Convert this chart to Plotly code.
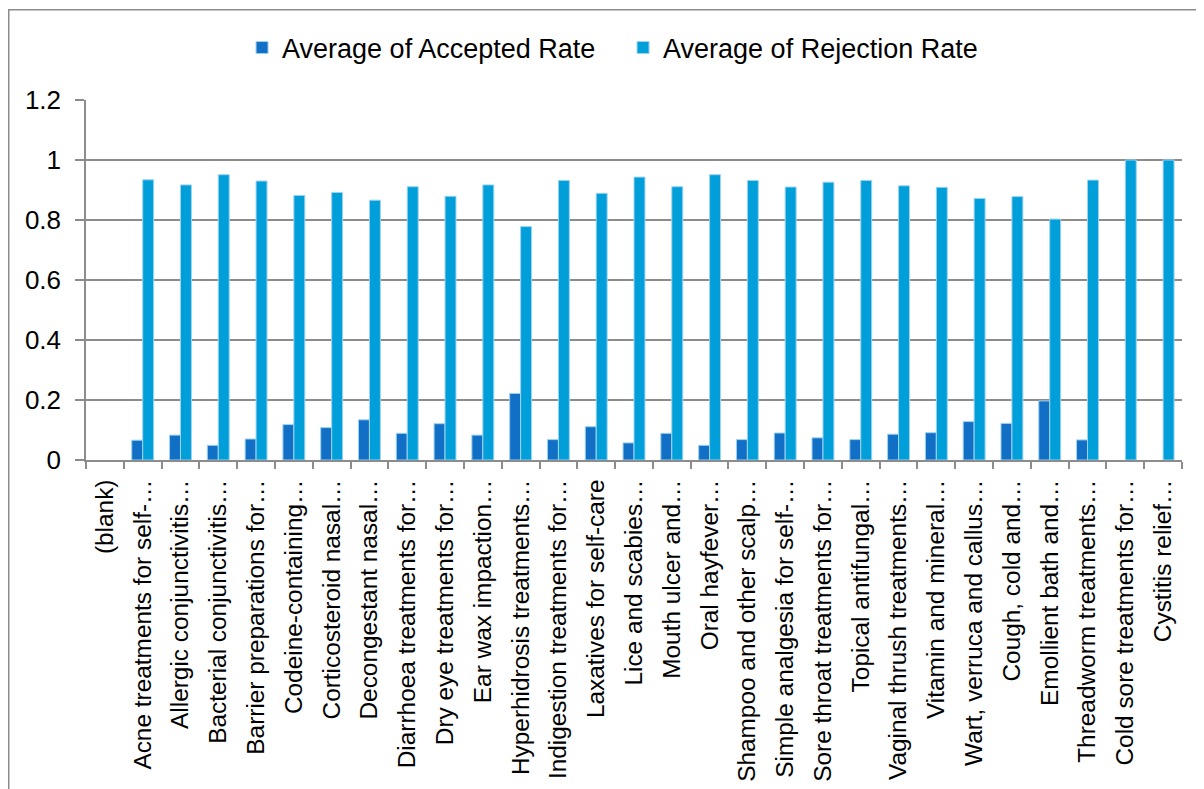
import plotly.graph_objects as go

categories = [
    "(blank)", "Acne treatments for self-…", "Allergic conjunctivitis…",
    "Bacterial conjunctivitis…", "Barrier preparations for…", "Codeine-containing…",
    "Corticosteroid nasal…", "Decongestant nasal…", "Diarrhoea treatments for…",
    "Dry eye treatments for…", "Ear wax impaction…", "Hyperhidrosis treatments…",
    "Indigestion treatments for…", "Laxatives for self-care", "Lice and scabies…",
    "Mouth ulcer and…", "Oral hayfever…", "Shampoo and other scalp…",
    "Simple analgesia for self-…", "Sore throat treatments for…", "Topical antifungal…",
    "Vaginal thrush treatments…", "Vitamin and mineral…", "Wart, verruca and callus…",
    "Cough, cold and…", "Emollient bath and…", "Threadworm treatments…",
    "Cold sore treatments for…", "Cystitis relief…",
]

accepted = [
    None, 0.066, 0.083, 0.049, 0.070, 0.118, 0.108, 0.134, 0.089, 0.121,
    0.083, 0.222, 0.068, 0.111, 0.057, 0.089, 0.049, 0.068, 0.090, 0.074,
    0.068, 0.086, 0.091, 0.128, 0.122, 0.197, 0.067, None, None,
]

rejection = [
    None, 0.934, 0.917, 0.951, 0.930, 0.882, 0.892, 0.866, 0.911, 0.879,
    0.917, 0.778, 0.932, 0.889, 0.943, 0.911, 0.951, 0.932, 0.910, 0.926,
    0.932, 0.914, 0.909, 0.872, 0.878, 0.803, 0.933, 1.0, 1.0,
]

y_ticks = [0, 0.2, 0.4, 0.6, 0.8, 1, 1.2]
y_labels = ["0", "0.2", "0.4", "0.6", "0.8", "1", "1.2"]

FONT = "Liberation Sans, Arial, sans-serif"
GRID = "#8c8c8c"

fig = go.Figure()
fig.add_trace(go.Bar(
    x=categories, y=accepted, name="Average of Accepted Rate",
    marker=dict(color="#1170c6", line=dict(color="#9fd3f0", width=1)),
))
fig.add_trace(go.Bar(
    x=categories, y=rejection, name="Average of Rejection Rate",
    marker=dict(color="#009fda", line=dict(color="#9fd3f0", width=1)),
))

# page has an 8px body margin: figure pixel = page pixel - 8
OFF = 8
W, H = 1196, 781
L = 86 - OFF
T = 100 - OFF
R = W - (1182 - OFF)
B = H - (460 - OFF)
pw, ph = W - L - R, H - T - B

def px_x(p):
    return (p - OFF - L) / pw

def px_y(p):
    return (H - B - (p - OFF)) / ph

fig.update_layout(
    width=W, height=H,
    margin=dict(l=L, r=R, t=T, b=B, pad=0, autoexpand=False),
    paper_bgcolor="white", plot_bgcolor="white",
    barmode="group", bargap=0.42, bargroupgap=0,
    font=dict(family=FONT, color="black", size=22),
    showlegend=True,
    legend=dict(
        orientation="h", x=0.490, xanchor="center", y=px_y(48), yanchor="middle",
        font=dict(size=27, family=FONT), entrywidth=336, entrywidthmode="pixels",
        traceorder="normal", itemwidth=30,
    ),
    xaxis=dict(
        type="category", tickangle=-90, showline=True, linecolor=GRID, linewidth=1.5,
        ticks="outside", tickson="boundaries", ticklen=7, tickcolor=GRID, tickwidth=1.5,
        showgrid=False, tickfont=dict(size=24.4, family=FONT), ticklabelstandoff=8,
        automargin=False,
    ),
    yaxis=dict(
        range=[0, 1.2], tickvals=y_ticks, ticktext=y_labels,
        showline=True, linecolor=GRID, linewidth=1.5,
        ticks="outside", ticklen=9, tickcolor=GRID, tickwidth=1.5,
        showgrid=True, gridcolor=GRID, gridwidth=1.5, zeroline=False,
        tickfont=dict(size=26, family=FONT), ticklabelstandoff=9,
        automargin=False,
    ),
    shapes=[dict(
        type="rect", xref="paper", yref="paper",
        x0=px_x(8.75), x1=px_x(1215), y0=px_y(820), y1=px_y(9.75),
        line=dict(color="#8c8c8c", width=1.5), fillcolor="rgba(0,0,0,0)", layer="below",
    )],
)

fig.write_html("out.html")
